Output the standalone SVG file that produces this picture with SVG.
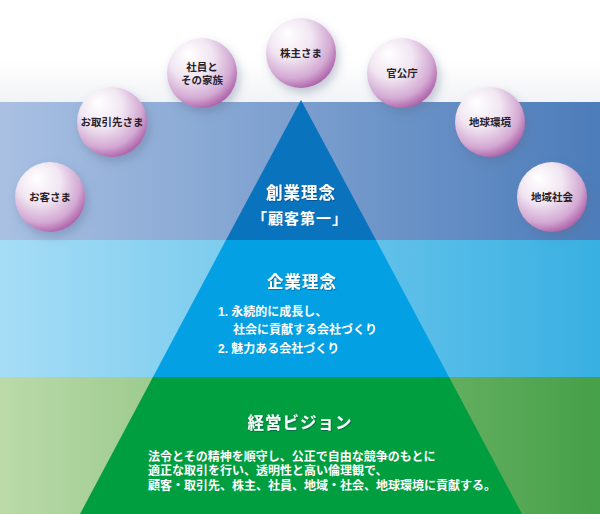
<svg xmlns="http://www.w3.org/2000/svg" width="600" height="514" viewBox="0 0 600 514">
<defs>
<linearGradient id="gTop" x1="0" y1="0" x2="1" y2="0">
<stop offset="0" stop-color="#a9c0e2"/><stop offset="1" stop-color="#4c7cba"/>
</linearGradient>
<linearGradient id="gMid" x1="0" y1="0" x2="1" y2="0">
<stop offset="0" stop-color="#a6ddf6"/><stop offset="1" stop-color="#38b0e2"/>
</linearGradient>
<linearGradient id="gBot" x1="0" y1="0" x2="1" y2="0">
<stop offset="0" stop-color="#bbdaa8"/><stop offset="1" stop-color="#45a048"/>
</linearGradient>
<linearGradient id="gSky" x1="0" y1="0" x2="0" y2="1">
<stop offset="0" stop-color="#ffffff"/><stop offset="0.6" stop-color="#ffffff"/><stop offset="1" stop-color="#f2f3f6"/>
</linearGradient>
<radialGradient id="gBall" cx="0.4" cy="0.35" r="0.68" fx="0.3" fy="0.22">
<stop offset="0" stop-color="#ffffff"/>
<stop offset="0.45" stop-color="#f1e6f2"/>
<stop offset="0.8" stop-color="#d3a9d3"/>
<stop offset="1" stop-color="#ad5fa8"/>
</radialGradient>
<filter id="shadow" x="-50%" y="-50%" width="200%" height="200%">
<feDropShadow dx="3" dy="5" stdDeviation="5" flood-color="#5a6a8a" flood-opacity="0.35"/>
</filter>
<filter id="tshadow" x="-10%" y="-30%" width="120%" height="160%">
<feDropShadow dx="0.8" dy="0.8" stdDeviation="0.6" flood-color="#003050" flood-opacity="0.5"/>
</filter>
</defs>
<style>
.t{font-family:"Liberation Sans","Noto Sans CJK JP","Noto Sans CJK SC",sans-serif;font-weight:bold;}
.title{fill:#ffffff;font-size:16.5px;text-anchor:middle;letter-spacing:1px;}
.body{fill:#ffffff;font-size:12px;}
.lbl{fill:#2a1f2a;font-size:10.5px;text-anchor:middle;}
.ball{fill:url(#gBall);filter:url(#shadow);}
</style>
<g id="background">
<rect x="0" y="0" width="600" height="102" fill="url(#gSky)"/>
<rect x="0" y="102" width="600" height="138" fill="url(#gTop)"/>
<rect x="0" y="240" width="600" height="137" fill="url(#gMid)"/>
<rect x="0" y="377" width="600" height="137" fill="url(#gBot)"/>
</g>
<g id="pyramid">
<polygon points="301,100 226,240 376,240" fill="#0a73be"/>
<polygon points="226,240 376,240 449,377 153,377" fill="#03a0e3"/>
<polygon points="153,377 449,377 522,514 80,514" fill="#009e3f"/>
</g>
<g id="connectors"/>
<g id="founding">
<text class="t title" x="301" y="199" filter="url(#tshadow)">創業理念</text>
<text class="t title" x="300" y="224" style="font-size:15px">「顧客第一」</text>
</g>
<g id="corporate">
<text class="t title" x="302" y="288" filter="url(#tshadow)">企業理念</text>
<text class="t body" x="218" y="316">1. 永続的に成長し、</text>
<text class="t body" x="233" y="334">社会に貢献する会社づくり</text>
<text class="t body" x="218" y="353">2. 魅力ある会社づくり</text>
</g>
<g id="vision">
<text class="t title" x="300" y="429" filter="url(#tshadow)">経営ビジョン</text>
<text class="t body" x="148" y="461">法令とその精神を順守し、公正で自由な競争のもとに</text>
<text class="t body" x="148" y="475">適正な取引を行い、透明性と高い倫理観で、</text>
<text class="t body" x="148" y="490">顧客・取引先、株主、社員、地域・社会、地球環境に貢献する。</text>
</g>
<g id="n-customer"><circle class="ball" cx="50" cy="197" r="35"/><text class="t lbl" x="50" y="201">お客さま</text></g>
<g id="n-partner"><circle class="ball" cx="112" cy="122" r="35"/><text class="t lbl" x="112" y="126">お取引先さま</text></g>
<g id="n-employee"><circle class="ball" cx="202" cy="73" r="35"/><text class="t lbl" x="202" y="71">社員と</text><text class="t lbl" x="202" y="84">その家族</text></g>
<g id="n-shareholder"><circle class="ball" cx="301" cy="53" r="35"/><text class="t lbl" x="301" y="57">株主さま</text></g>
<g id="n-government"><circle class="ball" cx="402" cy="73" r="35"/><text class="t lbl" x="402" y="77">官公庁</text></g>
<g id="n-environment"><circle class="ball" cx="490" cy="122" r="35"/><text class="t lbl" x="490" y="126">地球環境</text></g>
<g id="n-community"><circle class="ball" cx="552" cy="197" r="35"/><text class="t lbl" x="552" y="201">地域社会</text></g>
</svg>
